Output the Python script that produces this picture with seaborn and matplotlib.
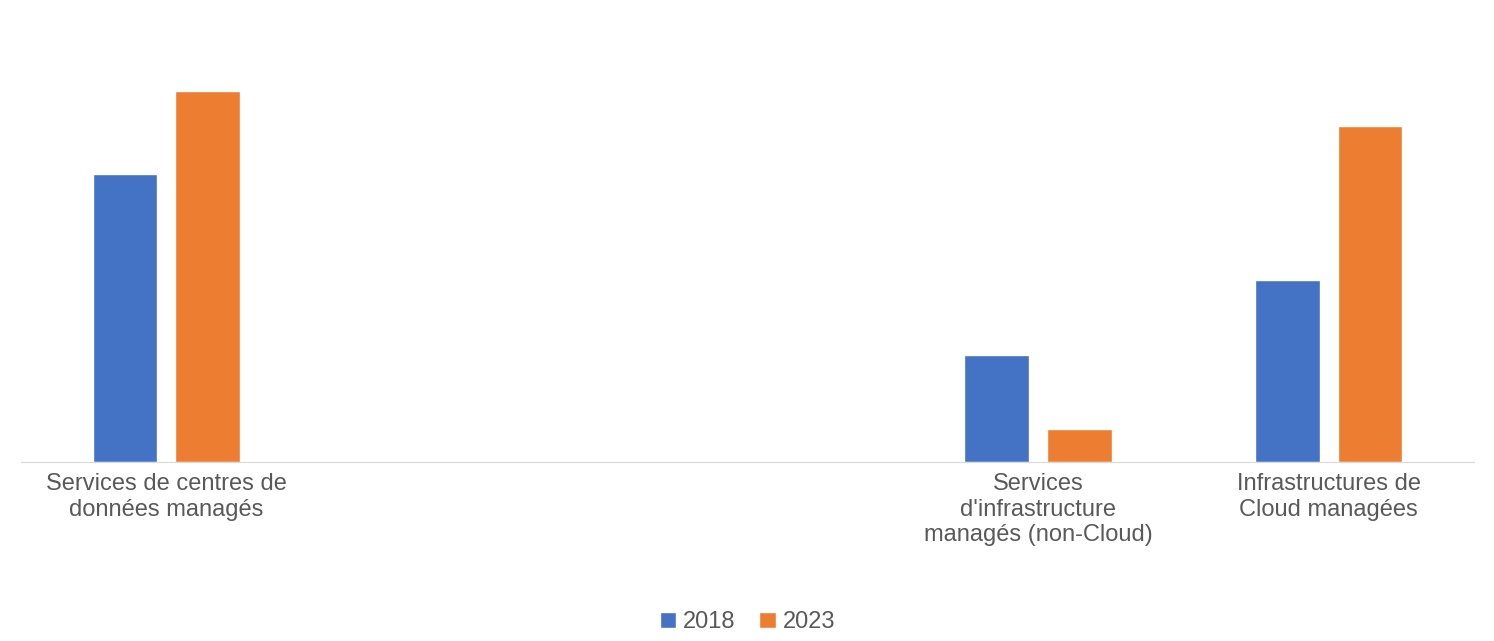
import matplotlib
matplotlib.use("Agg")
import matplotlib.pyplot as plt
import seaborn as sns
import pandas as pd

categories = ["Services de centres de\ndonnées managés", "", " ",
              "Services\nd'infrastructure\nmanagés (non-Cloud)",
              "Infrastructures de\nCloud managées"]
v2018 = [288, 0, 0, 107, 182]
v2023 = [371, 0, 0, 33, 336]

df = pd.DataFrame({
    "cat": categories * 2,
    "year": ["2018"] * 5 + ["2023"] * 5,
    "val": v2018 + v2023,
})

sns.set_style("white")
plt.rcParams['font.family'] = ['Arial', 'Liberation Sans', 'DejaVu Sans']
fig = plt.figure(figsize=(14.94, 6.41), dpi=100)
ax = fig.add_axes([21/1494, 1-462/641, 1453/1494, 441/641])
sns.barplot(data=df, x="cat", y="val", hue="year", order=categories,
            palette=["#4472C4", "#ED7D31"], width=0.57, gap=0.22,
            saturation=1, ax=ax, legend=True)
ax.set_ylim(0, 441)
ax.set_xlim(-0.5, 4.5)
ax.set_xlabel(""); ax.set_ylabel("")
ax.set_yticks([])
for s in ["top", "right", "left"]:
    ax.spines[s].set_visible(False)
ax.spines["bottom"].set_color("#D9D9D9")
ax.tick_params(axis="x", length=0, labelsize=17, labelcolor="#595959", pad=8)
ax.legend(loc="upper center", bbox_to_anchor=(0.5, -0.29), ncol=2, frameon=False,
          fontsize=17, labelcolor="#595959", handlelength=0.7, handleheight=0.7,
          columnspacing=1.0, handletextpad=0.3)
fig.savefig("out.png", dpi=100)
